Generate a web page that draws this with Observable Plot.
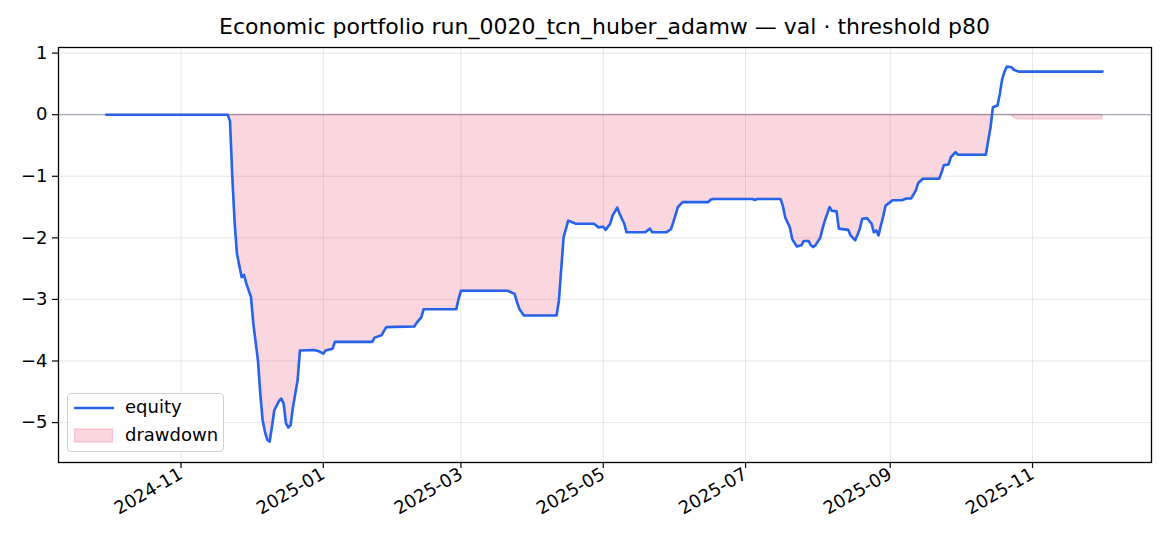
<!DOCTYPE html>
<html>
<head>
<meta charset="utf-8">
<script src="https://cdn.jsdelivr.net/npm/d3@7"></script>
<script src="https://cdn.jsdelivr.net/npm/@observablehq/plot@0.6"></script>
<style>
  html, body { margin: 0; padding: 0; background: #fff; }
  #wrap { position: relative; width: 1170px; height: 546px; font-family: "DejaVu Sans", sans-serif; }
  #title { position: absolute; left: 58px; width: 1093px; top: 14px; text-align: center; font-size: 22px; line-height: 26px; color: #000; white-space: nowrap; }
  #legend { position: absolute; left: 67px; top: 393px; width: 155px; height: 57px; border: 1px solid #d0d0d0; border-radius: 4px; background: rgba(255,255,255,0.85); font-size: 18px; }
  .lbl { position: absolute; left: 57px; white-space: nowrap; line-height: 22px; }
</style>
</head>
<body>
<div id="wrap">
  <div id="chart"></div>
  <div id="title">Economic portfolio run_0020_tcn_huber_adamw — val · threshold p80</div>
  <div id="legend">
    <svg width="50" height="57" style="position:absolute;left:0;top:0">
      <line x1="6" x2="46" y1="14" y2="14" stroke="#2563eb" stroke-width="2.6"></line>
      <rect x="6.5" y="35" width="38" height="13" fill="#e11d48" fill-opacity="0.18" stroke="#e11d48" stroke-opacity="0.18" stroke-width="1.4"></rect>
    </svg>
    <div class="lbl" style="top:2px">equity</div>
    <div class="lbl" style="top:30px">drawdown</div>
  </div>
</div>
<script>
const dates = [
  "2024-09-30","2024-11-21","2024-11-22","2024-11-23","2024-11-24","2024-11-25","2024-11-26","2024-11-27","2024-11-28","2024-11-29",
  "2024-12-01","2024-12-02","2024-12-04","2024-12-05","2024-12-06","2024-12-07","2024-12-08","2024-12-09","2024-12-10","2024-12-11",
  "2024-12-13","2024-12-14","2024-12-15","2024-12-16","2024-12-17","2024-12-18","2024-12-19","2024-12-21","2024-12-22","2024-12-28",
  "2024-12-30","2025-01-01","2025-01-02","2025-01-05","2025-01-06","2025-01-22","2025-01-23","2025-01-26","2025-01-28","2025-02-09",
  "2025-02-10","2025-02-12","2025-02-13","2025-02-27","2025-02-28","2025-03-01","2025-03-21","2025-03-24","2025-03-25","2025-03-26",
  "2025-03-28","2025-04-11","2025-04-12","2025-04-14","2025-04-16","2025-04-18","2025-04-19","2025-04-27","2025-04-29","2025-05-01",
  "2025-05-02","2025-05-04","2025-05-05","2025-05-07","2025-05-08","2025-05-10","2025-05-11","2025-05-19","2025-05-21","2025-05-22",
  "2025-05-28","2025-05-30","2025-05-31","2025-06-02","2025-06-04","2025-06-15","2025-06-16","2025-06-17","2025-07-04","2025-07-05",
  "2025-07-06","2025-07-16","2025-07-17","2025-07-18","2025-07-20","2025-07-21","2025-07-23","2025-07-25","2025-07-26","2025-07-28",
  "2025-07-29","2025-07-30","2025-07-31","2025-08-02","2025-08-03","2025-08-04","2025-08-06","2025-08-07","2025-08-09","2025-08-10",
  "2025-08-14","2025-08-15","2025-08-17","2025-08-18","2025-08-19","2025-08-20","2025-08-22","2025-08-24","2025-08-25","2025-08-26",
  "2025-08-27","2025-08-28","2025-08-29","2025-08-30","2025-09-01","2025-09-02","2025-09-06","2025-09-08","2025-09-10","2025-09-12",
  "2025-09-13","2025-09-15","2025-09-22","2025-09-23","2025-09-24","2025-09-26","2025-09-27","2025-09-29","2025-09-30","2025-10-12",
  "2025-10-13","2025-10-14","2025-10-15","2025-10-17","2025-10-18","2025-10-19","2025-10-20","2025-10-21","2025-10-23","2025-10-24",
  "2025-10-26","2025-12-01"
];
const equity = [
  0, 0, -0.10, -1.00, -1.75, -2.26, -2.45, -2.64, -2.60, -2.74,
  -2.96, -3.39, -3.99, -4.53, -4.96, -5.15, -5.28, -5.31, -5.07, -4.80,
  -4.65, -4.61, -4.69, -5.01, -5.08, -5.04, -4.75, -4.31, -3.83, -3.82,
  -3.84, -3.88, -3.83, -3.80, -3.69, -3.69, -3.62, -3.58, -3.45, -3.44,
  -3.38, -3.29, -3.16, -3.16, -2.99, -2.86, -2.86, -2.91, -3.04, -3.15,
  -3.26, -3.26, -3.02, -1.99, -1.72, -1.75, -1.77, -1.77, -1.83, -1.82,
  -1.87, -1.77, -1.64, -1.51, -1.61, -1.77, -1.91, -1.91, -1.85, -1.91,
  -1.91, -1.86, -1.75, -1.50, -1.42, -1.42, -1.38, -1.37, -1.37, -1.385,
  -1.37, -1.37, -1.48, -1.67, -1.83, -2.02, -2.14, -2.12, -2.05, -2.05,
  -2.12, -2.15, -2.12, -2.00, -1.85, -1.72, -1.50, -1.56, -1.57, -1.85,
  -1.87, -1.96, -2.04, -1.95, -1.85, -1.69, -1.68, -1.77, -1.91, -1.88,
  -1.96, -1.80, -1.65, -1.48, -1.42, -1.39, -1.39, -1.36, -1.36, -1.23,
  -1.11, -1.04, -1.04, -0.94, -0.82, -0.81, -0.69, -0.61, -0.65, -0.65,
  -0.42, -0.21, 0.12, 0.15, 0.34, 0.58, 0.70, 0.78, 0.77, 0.73,
  0.70, 0.70
];
const yTicks = [-5, -4, -3, -2, -1, 0, 1];
const xTicks = ["2024-11-01","2025-01-01","2025-03-01","2025-05-01","2025-07-01","2025-09-01","2025-11-01"];

let peak = -Infinity;
const rows = dates.map((d, i) => {
  peak = Math.max(peak, equity[i]);
  return {date: new Date(d + "T00:00:00Z"), equity: equity[i], dd: equity[i] - peak};
});
const xTickDates = xTicks.map(d => new Date(d + "T00:00:00Z"));

const chart = Plot.plot({
  width: 1170,
  height: 546,
  marginTop: 47,
  marginLeft: 58,
  marginRight: 19,
  marginBottom: 84,
  style: {fontFamily: "DejaVu Sans, sans-serif", fontSize: "18px", color: "#000", background: "#fff"},
  x: {type: "utc", domain: [new Date("2024-09-09T12:00:00Z"), new Date("2025-12-22T00:00:00Z")]},
  y: {domain: [-5.648, 1.091]},
  marks: [
    Plot.gridX(xTickDates, {stroke: "#b0b0b0", strokeOpacity: 0.3, strokeWidth: 1}),
    Plot.gridY(yTicks, {stroke: "#b0b0b0", strokeOpacity: 0.3, strokeWidth: 1}),
    Plot.areaY(rows, {x: "date", y1: 0, y2: "dd", fill: "#e11d48", fillOpacity: 0.18, stroke: "#e11d48", strokeOpacity: 0.18, strokeWidth: 1.4}),
    Plot.ruleY([0], {stroke: "#64748b", strokeOpacity: 0.55, strokeWidth: 1.2}),
    Plot.lineY(rows, {x: "date", y: "equity", stroke: "#2563eb", strokeWidth: 2.6, strokeLinejoin: "round"}),
    Plot.axisY(yTicks, {tickSize: 6, tickPadding: 5, tickFormat: d3.format("d"), fontSize: 18, stroke: "#000", strokeWidth: 1.2}),
    Plot.axisX(xTickDates, {tickSize: 6, tickPadding: 4, tickFormat: d3.utcFormat("%Y-%m"), tickRotate: -30, fontSize: 18, stroke: "#000", strokeWidth: 1.2}),
    Plot.frame({stroke: "#000", strokeWidth: 1.3})
  ]
});
document.getElementById("chart").appendChild(chart);
</script>
</body>
</html>
